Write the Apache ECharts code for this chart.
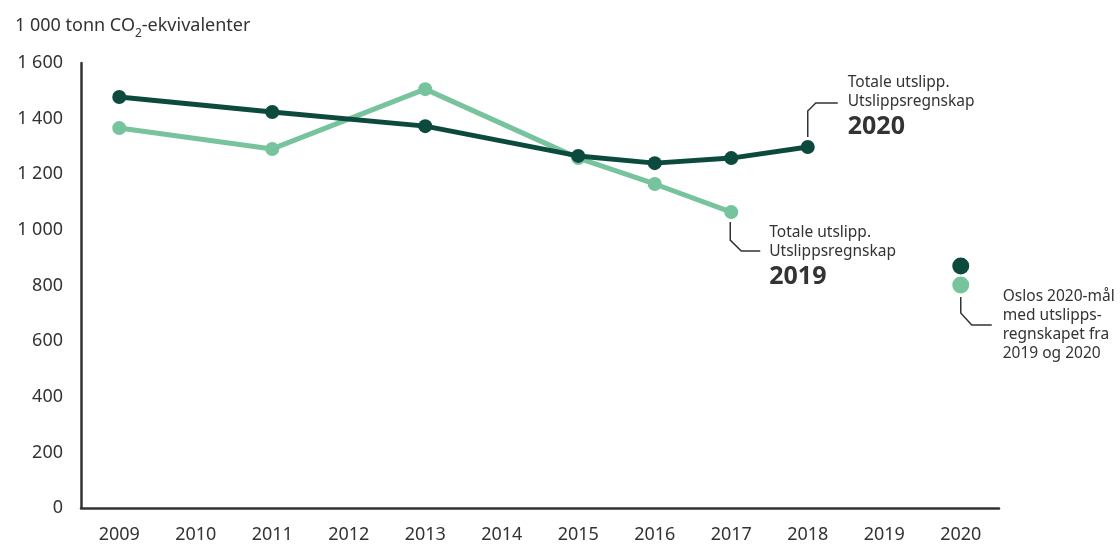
<!DOCTYPE html>
<html>
<head>
<meta charset="utf-8">
<script src="https://cdn.jsdelivr.net/npm/echarts@6/dist/echarts.min.js"></script>
<style>
html,body{margin:0;padding:0;background:#fff;}
#main{width:1120px;height:544px;}
</style>
</head>
<body>
<div id="main"></div>
<script>
// data
var years = ['2009','2010','2011','2012','2013','2014','2015','2016','2017','2018','2019','2020'];
var regnskap2020 = [1478, null, 1424, null, 1373, null, 1266, 1240, 1258, 1298, null, null];
var regnskap2019 = [1366, null, 1291, null, 1506, null, 1258, 1165, 1064, null, null, null];
var maal2020 = [['2020', 870]];
var maal2019 = [['2020', 802]];
var yTicks = [0, 200, 400, 600, 800, 1000, 1200, 1400, 1600];

var dark = '#0d4a3e';
var light = '#77c39e';
var txt = '#333333';
var font = '"Noto Sans", "Open Sans", sans-serif';

function fmt(v){
    return String(v).replace(/\B(?=(\d{3})+(?!\d))/g, ' ');
}

var chart = echarts.init(document.getElementById('main'));
var option = {
    animation: false,
    textStyle: {fontFamily: font},
    title: {
        text: '{a|1 000 tonn CO}{sub|2}{a|-ekvivalenter}',
        left: 10,
        top: 12,
        textStyle: {
            color: txt,
            fontSize: 18,
            fontWeight: 'normal',
            fontFamily: font,
            rich: {
                a: {fontSize: 18, color: txt, fontFamily: font, lineHeight: 26, verticalAlign: 'top'},
                sub: {fontSize: 12, color: txt, fontFamily: font, lineHeight: 12, padding: [11, 0, 0, 0], verticalAlign: 'top'}
            }
        }
    },
    grid: {
        left: 81,
        right: 121,
        top: 63,
        bottom: 36
    },
    xAxis: {
        type: 'category',
        data: years,
        boundaryGap: true,
        axisLine: {lineStyle: {color: txt, width: 2.5}},
        axisTick: {show: false},
        axisLabel: {color: txt, fontSize: 18, margin: 18, fontFamily: font}
    },
    yAxis: {
        type: 'value',
        min: 0,
        max: 1600,
        interval: 200,
        axisLine: {show: true, lineStyle: {color: txt, width: 2.5}},
        axisTick: {show: false},
        splitLine: {show: false},
        axisLabel: {
            color: txt, fontSize: 18, margin: 18, fontFamily: font,
            formatter: function(v){ return yTicks.indexOf(v) >= 0 ? fmt(v) : ''; }
        }
    },
    series: [
        {
            name: 'Utslippsregnskap 2019',
            type: 'line',
            data: regnskap2019,
            connectNulls: true,
            symbol: 'circle',
            symbolSize: 14,
            lineStyle: {width: 5, color: light},
            itemStyle: {color: light},
            z: 2
        },
        {
            name: 'Utslippsregnskap 2020',
            type: 'line',
            data: regnskap2020,
            connectNulls: true,
            symbol: 'circle',
            symbolSize: 14,
            lineStyle: {width: 5, color: dark},
            itemStyle: {color: dark},
            z: 3
        },
        {
            name: 'Mål 2020 (2020)',
            type: 'scatter',
            data: maal2020,
            symbolSize: 17,
            itemStyle: {color: dark, opacity: 1}
        },
        {
            name: 'Mål 2020 (2019)',
            type: 'scatter',
            data: maal2019,
            symbolSize: 17,
            itemStyle: {color: light, opacity: 1}
        }
    ]
};
chart.setOption(option);

// annotations placed from data points
var p20 = chart.convertToPixel({seriesIndex: 1}, ['2018', regnskap2020[9]]);
var p19 = chart.convertToPixel({seriesIndex: 0}, ['2017', regnskap2019[8]]);
var pm = chart.convertToPixel({seriesIndex: 3}, maal2019[0]);

var ls = {stroke: txt, lineWidth: 1.5, fill: null};
function txtEl(x, y, s, size, bold){
    return {type: 'text', x: x, y: y, style: {text: s, fill: txt, font: (bold ? 'bold ' : '') + size + 'px ' + font, textVerticalAlign: 'middle'}};
}

var g = [
    // 2020 regnskap
    {type: 'polyline', shape: {points: [[p20[0], p20[1] - 10], [p20[0], p20[1] - 36], [p20[0] + 8, p20[1] - 44], [p20[0] + 30, p20[1] - 44]]}, style: ls},
    txtEl(p20[0] + 40, p20[1] - 64, 'Totale utslipp.', 15.5),
    txtEl(p20[0] + 40, p20[1] - 45, 'Utslippsregnskap', 15.5),
    txtEl(p20[0] + 40, p20[1] - 20, '2020', 25, true),
    // 2019 regnskap
    {type: 'polyline', shape: {points: [[p19[0] - 1, p19[1] + 10], [p19[0] - 1, p19[1] + 28], [p19[0] + 10, p19[1] + 39], [p19[0] + 29, p19[1] + 39]]}, style: ls},
    txtEl(p19[0] + 38, p19[1] + 21, 'Totale utslipp.', 15.5),
    txtEl(p19[0] + 38, p19[1] + 40, 'Utslippsregnskap', 15.5),
    txtEl(p19[0] + 38, p19[1] + 65, '2019', 25, true),
    // mål
    {type: 'polyline', shape: {points: [[pm[0], pm[1] + 12], [pm[0], pm[1] + 28], [pm[0] + 11, pm[1] + 40], [pm[0] + 31, pm[1] + 40]]}, style: ls},
    txtEl(pm[0] + 42, pm[1] + 12, 'Oslos 2020-mål', 15.5),
    txtEl(pm[0] + 42, pm[1] + 31, 'med utslipps-', 15.5),
    txtEl(pm[0] + 42, pm[1] + 50, 'regnskapet fra', 15.5),
    txtEl(pm[0] + 42, pm[1] + 69, '2019 og 2020', 15.5)
];
chart.setOption({graphic: g});
</script>
</body>
</html>
